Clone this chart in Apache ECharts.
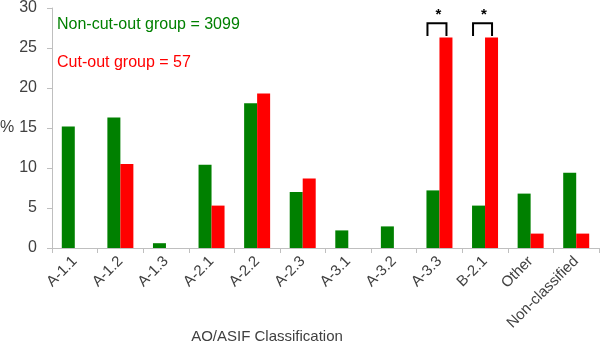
<!DOCTYPE html>
<html><head><meta charset="utf-8">
<script src="https://cdn.jsdelivr.net/npm/echarts@6/dist/echarts.min.js"></script>
<style>html,body{margin:0;padding:0;background:#fff}#c{width:600px;height:343px}</style>
</head><body><div id="c"></div>
<script>
var categories = ['A-1.1','A-1.2','A-1.3','A-2.1','A-2.2','A-2.3','A-3.1','A-3.2','A-3.3','B-2.1','Other','Non-classified'];
var nonCutOut = [15.2, 16.3, 0.6, 10.4, 18.1, 7.0, 2.2, 2.7, 7.2, 5.3, 6.8, 9.4];
var cutOut = [null, 10.5, null, 5.3, 19.3, 8.7, null, null, 26.3, 26.3, 1.8, 1.8];
var yTicks = [0, 5, 10, 15, 20, 25, 30];
var sigCategories = [8, 9];
var bracketTop = 28.1, bracketBottom = 26.5, starValue = 29.1;

var FONT = '"Liberation Sans", Arial, sans-serif';
var chart = echarts.init(document.getElementById('c'));
chart.setOption({
  animation: false,
  grid: {left: 52, right: 1, top: 7, bottom: 95, containLabel: false},
  xAxis: {
    type: 'category', data: categories,
    axisLine: {lineStyle: {color: '#bfbfbf', width: 1}},
    axisTick: {show: true, alignWithLabel: false, length: 5, lineStyle: {color: '#bfbfbf'}},
    axisLabel: {rotate: 45, interval: 0, color: '#404040', fontSize: 15, fontFamily: FONT, margin: 11}
  },
  yAxis: {
    type: 'value', min: yTicks[0], max: yTicks[yTicks.length-1], interval: 5,
    splitLine: {show: false},
    axisLine: {show: true, lineStyle: {color: '#bfbfbf', width: 1}},
    axisTick: {show: true, length: 5, lineStyle: {color: '#bfbfbf'}},
    axisLabel: {color: '#404040', fontSize: 16, fontFamily: FONT, margin: 15}
  },
  graphic: [
    {type: 'text', left: 57, top: 17, style: {text: 'Non-cut-out group = 3099', fill: '#008000', font: '16px ' + FONT}},
    {type: 'text', left: 57, top: 55, style: {text: 'Cut-out group = 57', fill: '#ff0000', font: '16px ' + FONT}},
    {type: 'text', left: 0, top: 120, style: {text: '%', fill: '#404040', font: '16px ' + FONT}},
    {type: 'text', x: 267, y: 329, style: {text: 'AO/ASIF Classification', fill: '#404040', font: '15px ' + FONT, align: 'center'}}
  ],
  series: [
    {type: 'bar', name: 'Non-cut-out', data: nonCutOut, barWidth: 13, barGap: '0%', itemStyle: {color: '#008000'}},
    {type: 'bar', name: 'Cut-out', data: cutOut, barWidth: 13, barGap: '0%', itemStyle: {color: '#ff0000'}},
    {
      type: 'custom', silent: true,
      data: sigCategories.map(function(c){ return [c, bracketTop]; }),
      renderItem: function(params, api) {
        var c = api.value(0);
        var top = api.coord([c, bracketTop]);
        var bot = api.coord([c, bracketBottom]);
        var star = api.coord([c, starValue]);
        var x0 = top[0] - 12, x1 = top[0] + 7;
        return {type: 'group', children: [
          {type: 'polyline', shape: {points: [[x0, bot[1]], [x0, top[1]], [x1, top[1]], [x1, bot[1]]]},
           style: {stroke: '#000', lineWidth: 2, fill: null}},
          {type: 'text', style: {text: '*', x: top[0] - 1, y: star[1], align: 'center', verticalAlign: 'middle', fill: '#000', font: 'bold 15px ' + FONT}}
        ]};
      }
    }
  ]
});
</script></body></html>
